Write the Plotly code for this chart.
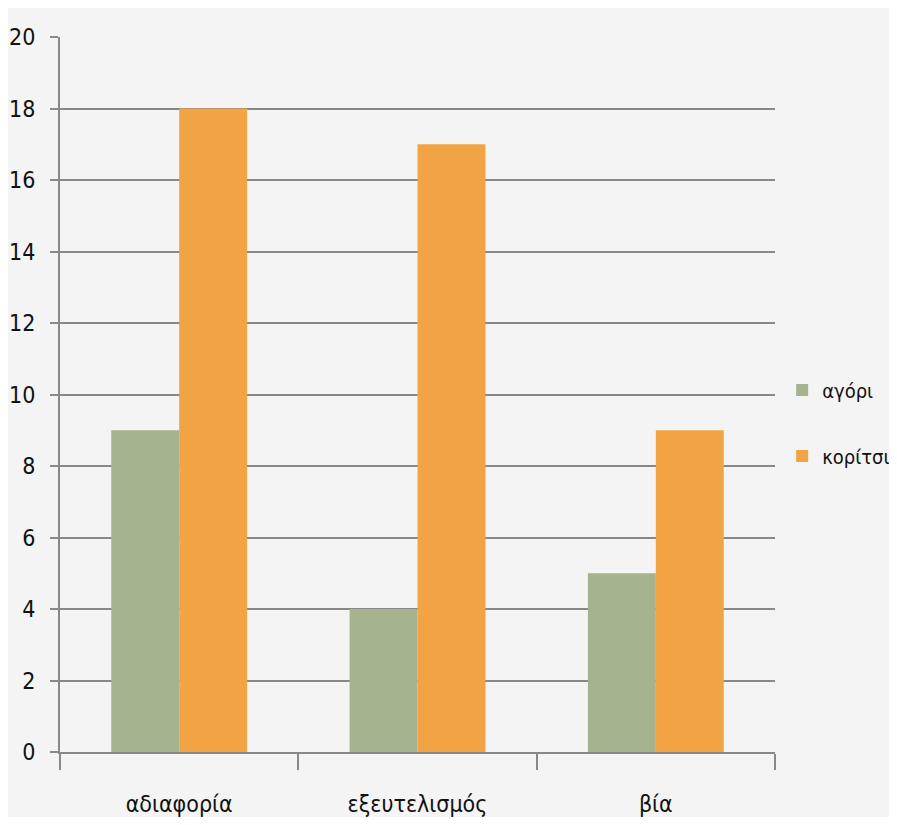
import plotly.graph_objects as go

categories = ["αδιαφορία", "εξευτελισμός", "βία"]
boys = [9, 4, 5]
girls = [18, 17, 9]
series_names = ["αγόρι", "κορίτσι"]
y_ticks = [0, 2, 4, 6, 8, 10, 12, 14, 16, 18, 20]

font_family = "Liberation Sans Narrow, DejaVu Sans Condensed, sans-serif"

fig = go.Figure()
fig.add_trace(go.Bar(x=categories, y=boys, name=series_names[0],
                     marker=dict(color="#a5b38f", line=dict(width=0)),
                     legendgroup="a"))
fig.add_trace(go.Bar(x=categories, y=girls, name=series_names[1],
                     marker=dict(color="#f2a344", line=dict(width=0)),
                     legendgroup="b"))

fig.update_layout(
    width=881, height=809,
    paper_bgcolor="#f4f4f4", plot_bgcolor="#f4f4f4",
    margin=dict(l=52, r=114, t=29, b=65, autoexpand=False),
    barmode="group", bargap=0.43, bargroupgap=0,
    font=dict(family=font_family, size=23, color="#111111"),
    legend=dict(x=1.01, xanchor="left", y=0.46, yanchor="middle",
                traceorder="grouped", tracegroupgap=37,
                font=dict(size=20), itemwidth=30, bgcolor="rgba(0,0,0,0)"),
    xaxis=dict(showgrid=False, showline=True, linecolor="#888888", linewidth=2,
               ticks="outside", tickson="boundaries", ticklen=16, tickwidth=2,
               tickcolor="#888888", ticklabelstandoff=30, automargin=False),
    yaxis=dict(range=[0, 20], tickvals=y_ticks, showgrid=True, gridcolor="#888888",
               gridwidth=2, showline=True, linecolor="#888888", linewidth=2,
               ticks="outside", ticklen=8, tickwidth=2, tickcolor="#888888",
               zeroline=False, ticklabelstandoff=10, automargin=False),
)

fig.write_html("out.html")
